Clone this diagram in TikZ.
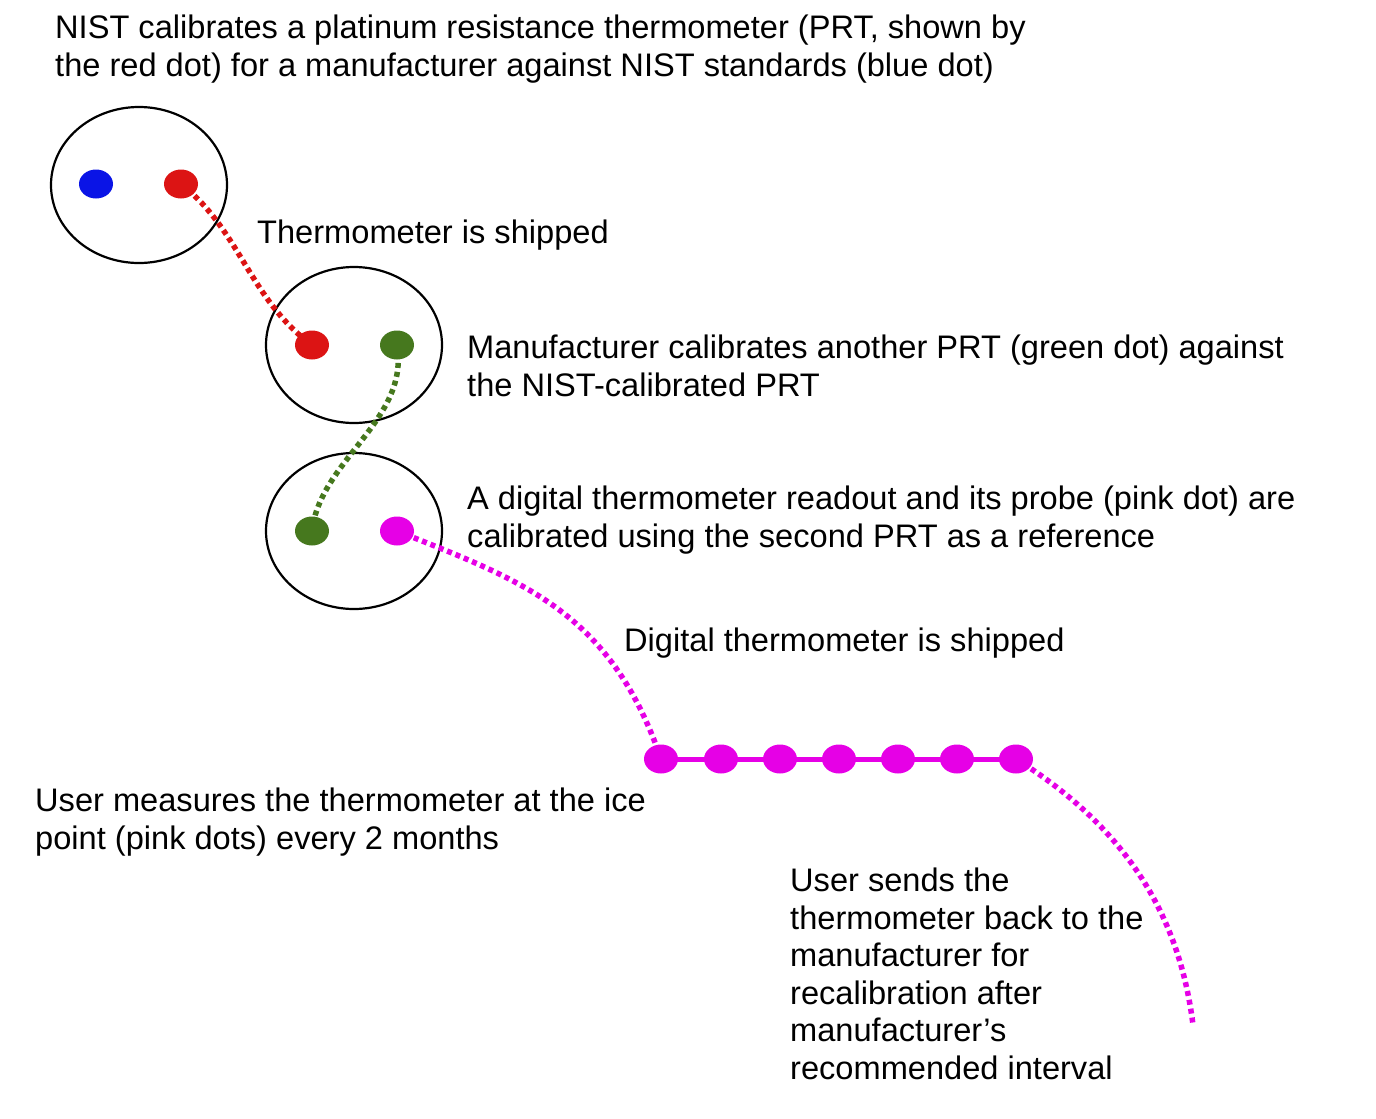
\documentclass[tikz,border=0pt]{standalone}
\usepackage{fontspec}
\setmainfont{Liberation Sans}
\usetikzlibrary{shapes.geometric}
\definecolor{pnk}{RGB}{230,0,230}
\definecolor{rd}{RGB}{220,20,20}
\definecolor{gr}{RGB}{70,120,30}
\definecolor{bl}{RGB}{10,20,230}
\begin{document}
\begin{tikzpicture}[x=1pt,y=-1pt,
  txt/.style={anchor=north west,align=left,inner sep=0pt,font=\fontsize{32.6}{37.5}\selectfont},
  dot/.style={ellipse,minimum width=34pt,minimum height=29pt,inner sep=0pt},
  trail/.style={line width=5.5pt,dash pattern=on 5pt off 4pt}]
\useasboundingbox (0,0) rectangle (1376,1119);
\draw[line width=2.2pt] (139,185) ellipse [x radius=88,y radius=78];
\draw[line width=2.2pt] (354,345) ellipse [x radius=88,y radius=78];
\draw[line width=2.2pt] (354,531) ellipse [x radius=88,y radius=78];
\node[dot,fill=bl] (b1) at (96,184) {};
\node[dot,fill=rd] (r1) at (181,184) {};
\node[dot,fill=rd] (r2) at (312,345) {};
\node[dot,fill=gr] (g1) at (397,345) {};
\node[dot,fill=gr] (g2) at (312,531) {};
\node[dot,fill=pnk] (p0) at (397,531) {};
\foreach \i/\x in {1/661,2/721,3/780,4/839,5/898,6/957,7/1016}
  \node[dot,fill=pnk] (q\i) at (\x,759) {};
\coordinate (e) at (1193,1025);
\draw[trail,rd] (r1.center) .. controls (240,230) and (250,300) .. (r2.center);
\draw[trail,gr] (g1.center) .. controls (410,420) and (320,460) .. (g2.center);
\draw[trail,pnk] (p0.center) .. controls (520,580) and (610,610) .. (q1.center);
\draw[line width=5pt,pnk] (q1.center) -- (q7.center);
\draw[trail,pnk] (q7.center) .. controls (1130,830) and (1180,920) .. (e);
\node[txt] (t1) at (55,15) {NIST calibrates a platinum resistance thermometer (PRT, shown by\\the red dot) for a manufacturer against NIST standards (blue dot)};
\node[txt] (t2) at (257,220) {Thermometer is shipped};
\node[txt] (t3) at (467,335) {Manufacturer calibrates another PRT (green dot) against\\the NIST-calibrated PRT};
\node[txt] (t4) at (467,486) {A digital thermometer readout and its probe (pink dot) are\\calibrated using the second PRT as a reference};
\node[txt] (t5) at (624,628) {Digital thermometer is shipped};
\node[txt] (t6) at (35,788) {User measures the thermometer at the ice\\point (pink dots) every 2 months};
\node[txt] (t7) at (790,868) {User sends the\\thermometer back to the\\manufacturer for\\recalibration after\\manufacturer’s\\recommended interval};
\end{tikzpicture}
\end{document}
